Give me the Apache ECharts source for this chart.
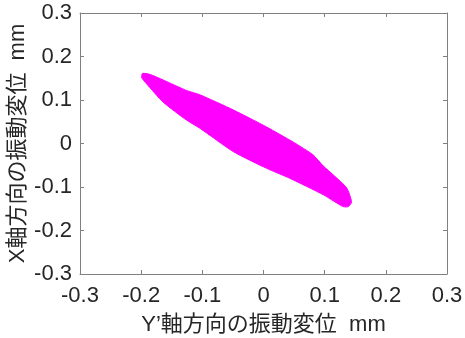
<!DOCTYPE html>
<html><head><meta charset="utf-8">
<script src="https://cdn.jsdelivr.net/npm/echarts@6/dist/echarts.min.js"></script>
<style>html,body{margin:0;padding:0;background:#fff}#c{width:465px;height:338px}</style>
</head><body><div id="c"></div>
<script>
// Outline of the vibration trajectory band (Y' displacement, X displacement), mm
const outlineX = [-0.198,-0.186,-0.164,-0.126,-0.104,-0.049,0.005,0.049,0.081,0.098,0.114,0.136,0.144,0.139,0.130,0.098,0.043,0.005,-0.049,-0.104,-0.126,-0.164,-0.191,-0.199];
const outlineY = [0.161,0.159,0.146,0.122,0.112,0.077,0.038,0.003,-0.026,-0.052,-0.072,-0.102,-0.134,-0.145,-0.145,-0.118,-0.080,-0.057,-0.019,0.035,0.054,0.095,0.137,0.151];
const tickValues = [-0.3,-0.2,-0.1,0,0.1,0.2,0.3];
const xTitle = "Y’軸方向の振動変位  mm";
const yTitle = "X軸方向の振動変位  mm";

const font = "'Liberation Sans', Arial, 'Noto Sans CJK JP', sans-serif";
const labelStyle = (show, margin) => ({show: show, color: '#262626', fontSize: 22, fontFamily: font, margin: margin,
    formatter: v => String(Math.round(v*10)/10)});
const axisCommon = (show, margin) => ({
  type: 'value', min: tickValues[0], max: tickValues[tickValues.length-1], interval: 0.1,
  axisLine: {show: true, onZero: false, lineStyle: {color: '#808080', width: 1}},
  axisTick: {show: true, inside: true, length: 4, lineStyle: {color: '#808080'}},
  splitLine: {show: false},
  axisLabel: labelStyle(show, margin)
});
const chart = echarts.init(document.getElementById('c'), null, {renderer: 'canvas'});
const pts = outlineX.map((x,i)=>[x, outlineY[i]]);
const nameStyle = {fontSize: 22, color: '#262626', fontFamily: font};
chart.setOption({
  animation: false,
  grid: {left: 80, top: 13, width: 367, height: 261, containLabel: false, outerBoundsMode: 'none'},
  xAxis: [
    Object.assign(axisCommon(true, 11), {position: 'bottom', name: xTitle, nameLocation: 'middle', nameGap: 40, nameMoveOverlap: false, nameTextStyle: nameStyle}),
    Object.assign(axisCommon(false, 8), {position: 'top'})
  ],
  yAxis: [
    Object.assign(axisCommon(true, 8), {position: 'left', name: yTitle, nameLocation: 'middle', nameGap: 51, nameMoveOverlap: false, nameTextStyle: nameStyle}),
    Object.assign(axisCommon(false, 8), {position: 'right'})
  ],
  series: [{
    type: 'custom',
    xAxisIndex: 0, yAxisIndex: 0,
    data: [0],
    renderItem: function(params, api) {
      return {
        type: 'polygon',
        shape: {points: pts.map(p => api.coord(p)), smooth: 0.2},
        style: {fill: '#ff00ff', stroke: '#ff00ff', lineWidth: 1}
      };
    }
  }]
});
</script></body></html>
